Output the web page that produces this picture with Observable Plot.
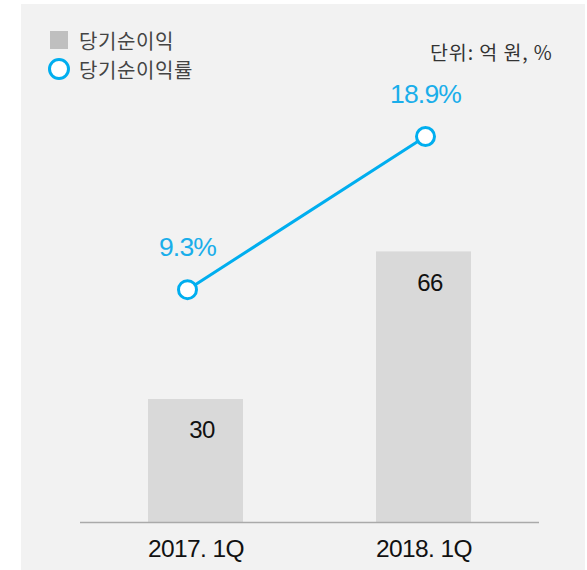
<!DOCTYPE html>
<html><head><meta charset="utf-8">
<script src="https://cdn.jsdelivr.net/npm/d3@7"></script>
<script src="https://cdn.jsdelivr.net/npm/@observablehq/plot@0.6"></script>
<style>
  html,body{margin:0;padding:0;background:#fff;}
  #wrap{position:relative;width:587px;height:570px;overflow:hidden;font-family:"Noto Sans CJK KR","Liberation Sans",sans-serif;}
  #bg{position:absolute;left:21px;top:4px;width:564px;height:566px;background:#f2f2f2;}
  .layer{position:absolute;left:0;top:0;}
  .legend{position:absolute;left:48px;top:25.5px;font-size:20px;color:#444;}
  .legend .row{display:flex;align-items:center;height:29.2px;}
  .legend .lbl{line-height:29px;letter-spacing:0.6px;}
  .sw{display:inline-block;width:18px;height:18px;background:#bfbfbf;margin:0 11px 0 2px;}
  .ci{display:inline-block;width:16px;height:16px;border:3px solid #00aeef;border-radius:50%;background:#fff;margin:0 9px 0 0;}
  .unit{position:absolute;left:430px;top:37px;font-size:19.5px;color:#333;letter-spacing:0.9px;}
</style>
</head><body>
<div id="wrap">
  <div id="bg"></div>
  <div id="p1" class="layer"></div>
  <div id="p2" class="layer"></div>
  <div class="legend">
    <div class="row"><span class="sw"></span><span class="lbl">당기순이익</span></div>
    <div class="row"><span class="ci"></span><span class="lbl">당기순이익률</span></div>
  </div>
  <div class="unit">단위: 억 원, %</div>
</div>
<script>
const periods = ["2017. 1Q", "2018. 1Q"];
const netIncome = [30, 66];
const netMargin = [9.3, 18.9];
const marginLabels = ["9.3%", "18.9%"];

const barData = periods.map((p, i) => ({period: p, value: netIncome[i]}));
const lineData = periods.map((p, i) => ({period: p, rate: netMargin[i], label: marginLabels[i]}));

const W = 587, H = 570;

const p1 = Plot.plot({
  width: W, height: H,
  marginLeft: 80, marginRight: 48, marginTop: 30, marginBottom: 48,
  style: {background: "transparent", fontFamily: "Liberation Sans, Arial, sans-serif"},
  x: {domain: periods, paddingInner: 0.583, paddingOuter: 0.295, label: null},
  y: {domain: [0, 120], axis: null},
  marks: [
    Plot.barY(barData, {x: "period", y: "value", fill: "#d9d9d9"}),
    Plot.ruleY([0], {stroke: "#aaaaaa", strokeWidth: 1.5}),
    Plot.text(barData, {x: "period", y: "value", text: d => String(d.value), dy: 31, dx: 6,
      fontSize: 24, fill: "#111"}),
    Plot.axisX({tickSize: 0, tickPadding: 17, fontSize: 24.5, fill: "#111", label: null, tickFormat: d => d})
  ]
});
p1.querySelectorAll("text").forEach(t => t.style.letterSpacing = "-0.6px");
document.getElementById("p1").appendChild(p1);

const p2 = Plot.plot({
  width: W, height: H,
  marginLeft: 80, marginRight: 48, marginTop: 30, marginBottom: 48,
  style: {background: "transparent", fontFamily: "Liberation Sans, Arial, sans-serif"},
  x: {type: "point", domain: periods, range: [187, 425], padding: 0, axis: null},
  y: {domain: [0, 20], range: [437.5, 118.5], axis: null},
  marks: [
    Plot.line(lineData, {x: "period", y: "rate", stroke: "#00aeef", strokeWidth: 3}),
    Plot.dot(lineData, {x: "period", y: "rate", r: 9, fill: "#fff", stroke: "#00aeef", strokeWidth: 3}),
    Plot.text(lineData, {x: "period", y: "rate", text: "label", dy: -42, fontSize: 26.5, fill: "#1aaeea"})
  ]
});
p2.querySelectorAll("text").forEach(t => t.style.letterSpacing = "-0.8px");
document.getElementById("p2").appendChild(p2);
</script>
</body></html>
